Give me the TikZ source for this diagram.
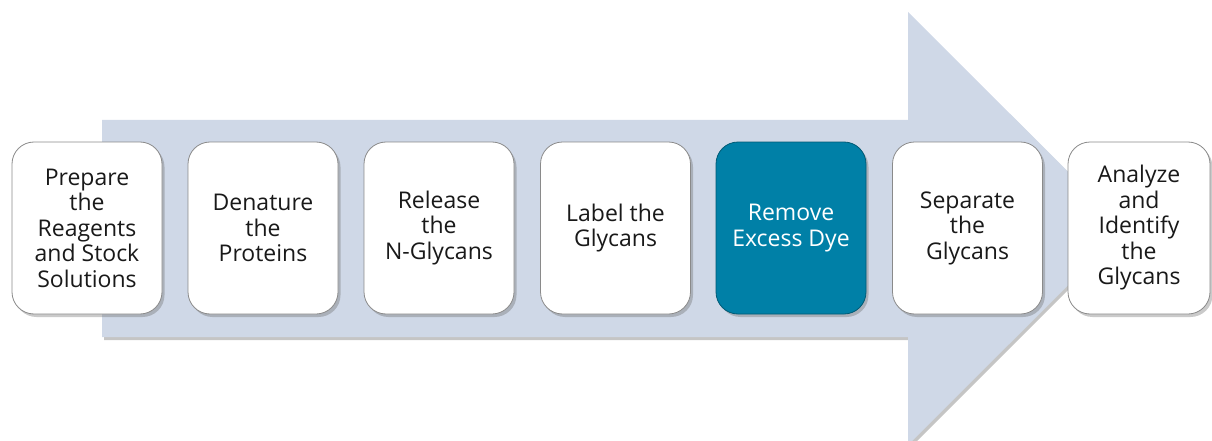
\documentclass[tikz,border=0pt]{standalone}
\usepackage{fontspec}
\setmainfont{Open Sans}
\usetikzlibrary{shadows}
\definecolor{arrowfill}{HTML}{CFD8E7}
\definecolor{stepteal}{HTML}{0080A7}
\definecolor{stepedge}{HTML}{8A8A8A}
\begin{document}
\begin{tikzpicture}[x=1pt,y=1pt,
  stepbox/.style={draw=stepedge, line width=0.8pt, fill=white, rounded corners=22pt,
    minimum width=150pt, minimum height=172pt, inner sep=0pt, align=center,
    font=\fontsize{23}{25.5}\selectfont, text=black!90,
    drop shadow={shadow xshift=2.5pt, shadow yshift=-3pt, opacity=0.35, fill=black!60}},
  hotbox/.style={stepbox, fill=stepteal, draw=stepteal!70!black, text=white}]
\useasboundingbox (0,0) rectangle (1212,-441);
% big background arrow with its shadow
\fill[black!45, opacity=0.5] (104,-123) -- (910,-123) -- (910,-15) -- (1127,-231) -- (910,-448) -- (910,-340) -- (104,-340) -- cycle;
\fill[arrowfill] (102,-120) -- (908,-120) -- (908,-12) -- (1125,-228.5) -- (908,-445) -- (908,-337) -- (102,-337) -- cycle;
% process steps
\node[stepbox] (s1) at (87,-228) {Prepare\\the\\Reagents\\and Stock\\Solutions};
\node[stepbox] (s2) at (263,-228) {Denature\\the\\Proteins};
\node[stepbox] (s3) at (439,-228) {Release\\the\\N-Glycans};
\node[stepbox] (s4) at (615.5,-228) {Label the\\Glycans};
\node[hotbox] (s5) at (791,-228) {Remove\\Excess Dye};
\node[stepbox] (s6) at (967.5,-228) {Separate\\the\\Glycans};
\node[stepbox, minimum width=142pt] (s7) at (1139,-228) {Analyze\\and\\Identify\\the\\Glycans};
\end{tikzpicture}
\end{document}
